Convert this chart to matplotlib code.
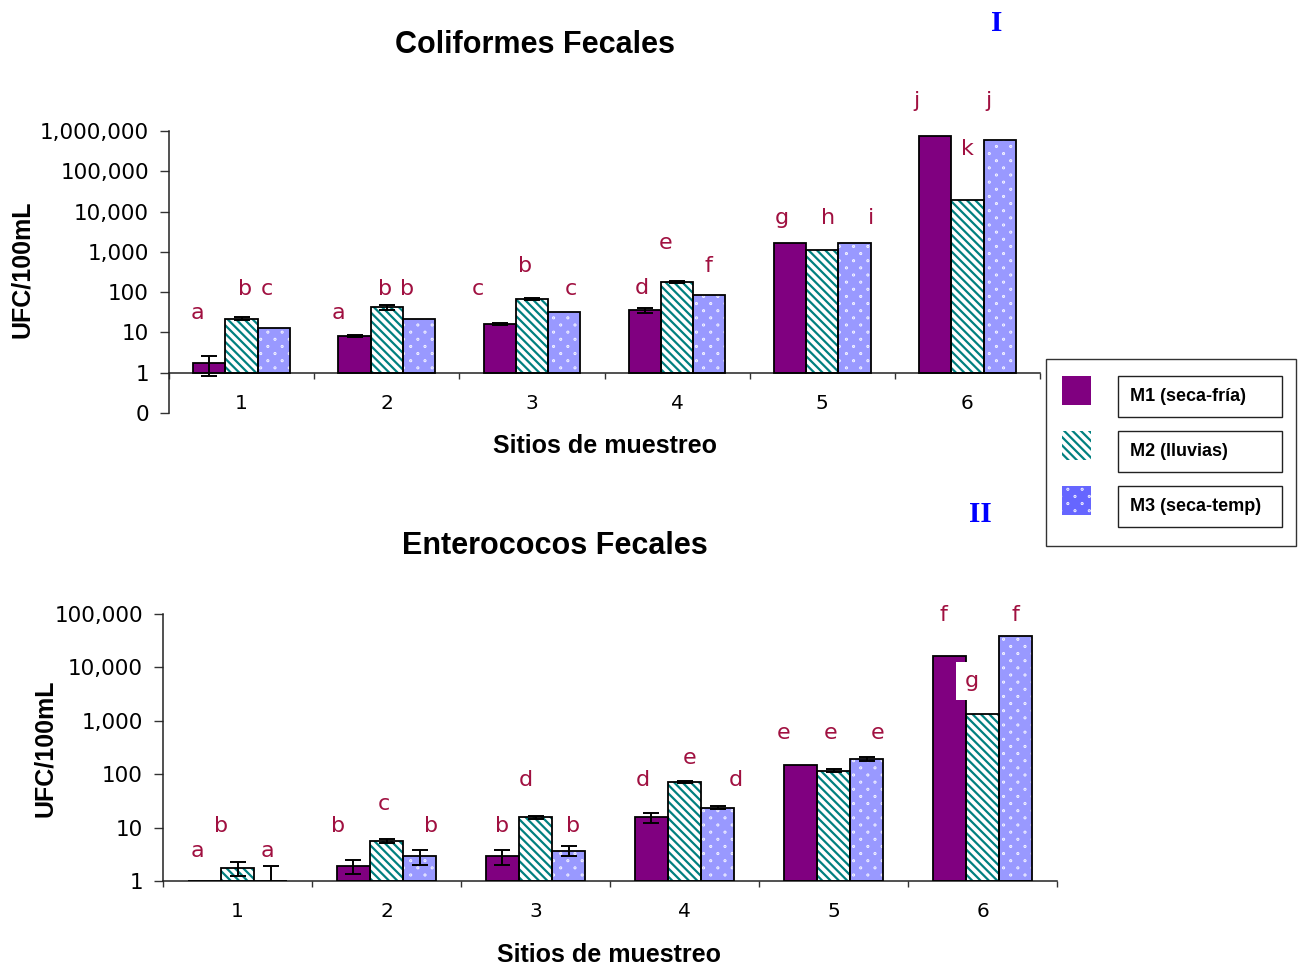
import numpy as np
import matplotlib
matplotlib.use("Agg")
import matplotlib.pyplot as plt
from matplotlib import hatch as mhatch
from matplotlib.path import Path
from matplotlib.patches import Rectangle
from matplotlib.ticker import FixedLocator, FuncFormatter, NullLocator

# ---------------------------------------------------------------- data ----
sites = ["1", "2", "3", "4", "5", "6"]
series_names = ["M1 (seca-fría)", "M2 (lluvias)", "M3 (seca-temp)"]

# Coliformes fecales (UFC/100 mL), mean and error per sampling campaign
cf_m1 = [1.75, 8.3, 16.5, 35, 1650, 760000]
cf_m2 = [22, 42, 68, 183, 1080, 19500]
cf_m3 = [12.5, 22, 31.5, 83, 1650, 600000]
cf_err_m1 = [0.9, 0.5, 1.0, 5.0, 0, 0]
cf_err_m2 = [2.0, 5.0, 5.0, 10.0, 0, 0]
cf_err_m3 = [0, 0, 0, 0, 0, 0]
cf_grp_m1 = ["a", "a", "c", "d", "g", "j"]
cf_grp_m2 = ["b", "b", "b", "e", "h", "k"]
cf_grp_m3 = ["c", "b", "c", "f", "i", "j"]

# Enterococos fecales (UFC/100 mL)
ef_m1 = [1.0, 1.9, 2.9, 15.5, 150, 16300]
ef_m2 = [1.75, 5.7, 15.6, 70, 116, 1320]
ef_m3 = [1.0, 2.9, 3.7, 23.6, 193, 38000]
ef_err_m1 = [0, 0.55, 0.9, 3.2, 0, 0]
ef_err_m2 = [0.5, 0.5, 1.0, 3.0, 8, 0]
ef_err_m3 = [0.9, 0.9, 0.75, 1.5, 20, 0]
ef_grp_m1 = ["a", "b", "b", "d", "e", "f"]
ef_grp_m2 = ["b", "c", "d", "e", "e", "g"]
ef_grp_m3 = ["a", "b", "b", "d", "e", "f"]

# placement of the significance letters: x offset from the site and
# baseline height in log10 units
cf_lab_dx = [[-0.301, -0.335, -0.373, -0.242, -0.277, -0.348],
             [0.021, -0.015, -0.045, -0.081, 0.039, 0.003],
             [0.177, 0.143, 0.271, 0.218, 0.334, 0.145]]
cf_lab_y = [[1.33, 1.33, 1.93, 1.95, 3.68, 6.60],
            [1.93, 1.93, 2.51, 3.08, 3.68, 5.40],
            [1.93, 1.93, 1.93, 2.51, 3.68, 6.60]]
ef_lab_dx = [[-0.266, -0.326, -0.226, -0.281, -0.337, -0.259],
             [-0.109, -0.015, -0.068, 0.036, -0.022, -0.072],
             [0.203, 0.301, 0.250, 0.346, 0.295, 0.219]]
ef_lab_y = [[0.455, 0.923, 0.923, 1.78, 2.66, 4.86],
            [0.923, 1.33, 1.78, 2.20, 2.66, 3.63],
            [0.455, 0.923, 0.923, 1.78, 2.66, 4.86]]
boxed_label = (1, 5)   # (series, site) letter drawn on a white patch


# ------------------------------------------------------- dotted fill -----
class StaggeredDots(mhatch.HatchPatternBase):
    """Small dots on offset rows, rows twice as close as columns."""

    def __init__(self, hatch, density):
        n = hatch.count('.')
        self.cols = 7 * n
        self.rows = 14 * n
        circle = Path.unit_circle()
        self._cv = circle.vertices * 0.004
        self._cc = circle.codes
        self.num_vertices = self.cols * self.rows * len(self._cv)

    def set_vertices_and_codes(self, vertices, codes):
        nv = len(self._cv)
        k = 0
        for r in range(self.rows):
            y = (r + 0.5) / self.rows
            shift = 0.25 if r % 2 == 0 else 0.75
            for c in range(self.cols):
                x = (c + shift) / self.cols
                vertices[k:k + nv] = self._cv + (x, y)
                codes[k:k + nv] = self._cc
                k += nv


mhatch._hatch_types[mhatch._hatch_types.index(mhatch.SmallFilledCircles)] = StaggeredDots

plt.rcParams['font.family'] = ['DejaVu Sans']
plt.rcParams['hatch.linewidth'] = 1.6

PURPLE = '#800080'
TEAL = '#008080'
PERI = '#9999FF'
LETTER = '#A01040'
BOLD = dict(family='Liberation Sans', weight='bold')
STRIPES = '\\\\\\\\'

fills = [dict(facecolor=PURPLE, edgecolor='none', linewidth=0),
         dict(facecolor='white', edgecolor=TEAL, hatch=STRIPES, linewidth=0),
         dict(facecolor=PERI, edgecolor='white', hatch='.', linewidth=0)]

fig = plt.figure(figsize=(13.04, 9.66), dpi=100)
ax_top = fig.add_axes([0.1296, 0.5725, 0.6680, 0.2919])
ax_bot = fig.add_axes([0.1250, 0.0880, 0.6856, 0.2764])


def draw_panel(ax, vals, errs, groups, lab_dx, lab_y, ymin, ymax):
    x = np.arange(1, len(sites) + 1)
    w = 0.222
    for i in range(3):
        xi = x + (i - 1) * w
        v = np.asarray(vals[i], float)
        ax.bar(xi, v - 1, bottom=1, width=w, zorder=2, **fills[i])
        ax.bar(xi, v - 1, bottom=1, width=w, fill=False, edgecolor='black',
               linewidth=1.3, zorder=3)
        e = np.asarray(errs[i], float)
        m = e > 0
        ax.errorbar(xi[m], v[m], yerr=e[m], fmt='none', ecolor='black',
                    elinewidth=1.4, capsize=5.5, capthick=1.4, zorder=4)
        for j, g in enumerate(groups[i]):
            kw = {}
            if (i, j) == boxed_label:
                kw['bbox'] = dict(boxstyle='square,pad=0.4', fc='white', ec='none')
            ax.text(x[j] + lab_dx[i][j], 10 ** lab_y[i][j], g, color=LETTER,
                    fontsize=16, ha='center', va='baseline', zorder=5,
                    clip_on=False, **kw)

    ax.set_yscale('log')
    ax.set_xlim(0.5, len(sites) + 0.5)
    ax.set_ylim(ymin, ymax)
    decades = np.arange(int(round(np.log10(ymin))), int(round(np.log10(ymax))) + 1)
    ax.yaxis.set_major_locator(FixedLocator(10.0 ** decades))
    ax.yaxis.set_minor_locator(NullLocator())
    ax.yaxis.set_major_formatter(FuncFormatter(lambda v, p: f"{v:,.0f}"))
    ax.set_xticks(x, sites)
    ax.set_xticks(np.arange(0.5, len(sites) + 1), minor=True)
    ax.tick_params(axis='x', which='major', length=0, pad=15, labelsize=14.5)
    ax.tick_params(axis='x', which='minor', length=4.5, width=1.0, color='#333333')
    ax.tick_params(axis='y', length=6.5, width=1.0, pad=8, labelsize=15.5,
                   color='#333333')
    for s in ('top', 'right'):
        ax.spines[s].set_visible(False)
    for s in ('left', 'bottom'):
        ax.spines[s].set_color('#222222')
        ax.spines[s].set_linewidth(1.1)


draw_panel(ax_top, [cf_m1, cf_m2, cf_m3], [cf_err_m1, cf_err_m2, cf_err_m3],
           [cf_grp_m1, cf_grp_m2, cf_grp_m3], cf_lab_dx, cf_lab_y, 0.1, 1e6)
ax_top.spines['bottom'].set_position(('data', 1))

draw_panel(ax_bot, [ef_m1, ef_m2, ef_m3], [ef_err_m1, ef_err_m2, ef_err_m3],
           [ef_grp_m1, ef_grp_m2, ef_grp_m3], ef_lab_dx, ef_lab_y, 1, 1e5)

# titles and axis labels
fig.text(0.4103, 0.9534, "Coliformes Fecales", fontsize=22, ha='center', va='center', **BOLD)
fig.text(0.4256, 0.4348, "Enterococos Fecales", fontsize=22, ha='center', va='center', **BOLD)
fig.text(0.4636, 0.5383, "Sitios de muestreo", fontsize=18, ha='center', va='center', **BOLD)
fig.text(0.4674, 0.0114, "Sitios de muestreo", fontsize=18, ha='center', va='center', **BOLD)
fig.text(0.0169, 0.7215, "UFC/100mL", fontsize=18, rotation=90, ha='center', va='center', **BOLD)
fig.text(0.0345, 0.2257, "UFC/100mL", fontsize=18, rotation=90, ha='center', va='center', **BOLD)
fig.text(0.7646, 0.9752, "I", fontsize=21, color='#0000FF', ha='center', va='center',
         family='Liberation Serif', weight='bold')
fig.text(0.7515, 0.4679, "II", fontsize=21, color='#0000FF', ha='center', va='center',
         family='Liberation Serif', weight='bold')

# legend: swatches with each name in its own framed box
fig.add_artist(Rectangle((0.8021, 0.4348), 0.1918, 0.1936, transform=fig.transFigure,
                         fill=False, edgecolor='#333333', linewidth=1.0))
legend_fills = [dict(facecolor=PURPLE, edgecolor='none', linewidth=0),
                dict(facecolor='white', edgecolor=TEAL, hatch=STRIPES, linewidth=0),
                dict(facecolor='#6666FF', edgecolor='white', hatch='.', linewidth=0)]
sw_y = [0.5807, 0.5238, 0.4669]
box_y = [0.5683, 0.5114, 0.4545]
for k, name in enumerate(series_names):
    fig.add_artist(Rectangle((0.8144, sw_y[k]), 0.0222, 0.0300,
                             transform=fig.transFigure, **legend_fills[k]))
    fig.add_artist(Rectangle((0.8574, box_y[k]), 0.1258, 0.0424,
                             transform=fig.transFigure, fill=False,
                             edgecolor='#222222', linewidth=1.0))
    fig.text(0.8666, box_y[k] + 0.0212, name, fontsize=13, ha='left', va='center', **BOLD)

fig.savefig("out.png", dpi=100)
